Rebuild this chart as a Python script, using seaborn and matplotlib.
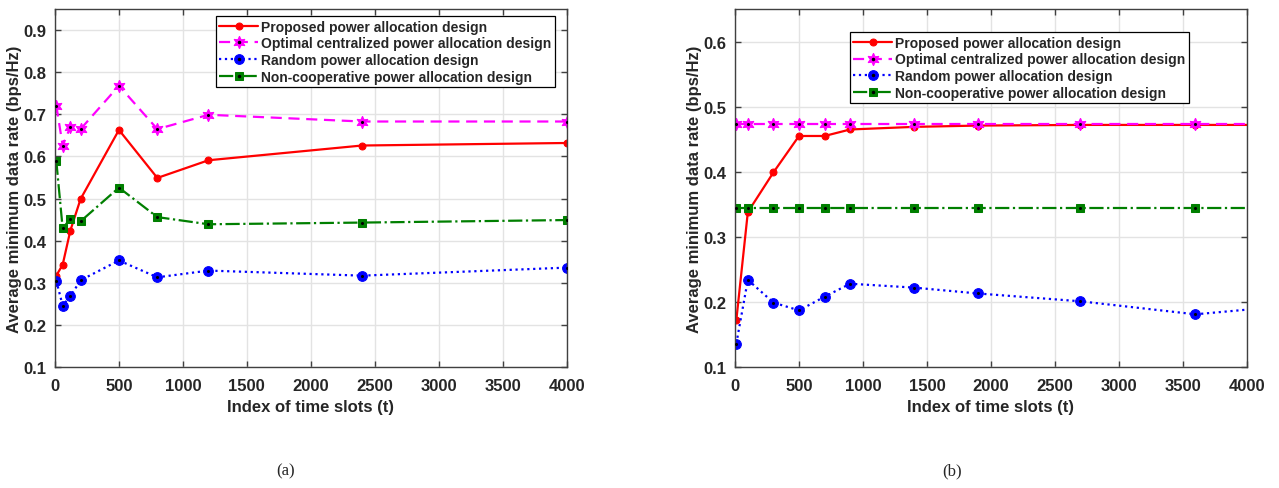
import matplotlib
matplotlib.use("Agg")
import matplotlib.pyplot as plt
import seaborn as sns
import pandas as pd

# (a) time slot indices and rates
t_a = [10, 60, 120, 200, 500, 800, 1200, 2400, 4000]
proposed_a = [0.317, 0.343, 0.424, 0.499, 0.663, 0.549, 0.591, 0.626, 0.632]
optimal_a = [0.721, 0.626, 0.670, 0.665, 0.768, 0.665, 0.699, 0.683, 0.683]
random_a = [0.305, 0.246, 0.268, 0.306, 0.353, 0.313, 0.329, 0.317, 0.336]
noncoop_a = [0.590, 0.429, 0.452, 0.446, 0.526, 0.456, 0.439, 0.443, 0.449]

# (b) time slot indices and rates (last point lies past the axis end)
t_b = [10, 100, 300, 500, 700, 900, 1400, 1900, 2700, 3600, 4500]
proposed_b = [0.172, 0.338, 0.399, 0.455, 0.455, 0.465, 0.469, 0.471, 0.472, 0.472, 0.472]
optimal_b = [0.473] * 11
random_b = [0.136, 0.234, 0.199, 0.187, 0.208, 0.228, 0.222, 0.213, 0.201, 0.181, 0.197]
noncoop_b = [0.344] * 11

labels = ["Proposed power allocation design",
          "Optimal centralized power allocation design",
          "Random power allocation design",
          "Non-cooperative power allocation design"]

sns.set_theme(style="whitegrid")
plt.rcParams["font.family"] = ["Liberation Sans", "DejaVu Sans"]
plt.rcParams["font.weight"] = "bold"

# color, linestyle, marker, marker size, black center dot
styles = [
    ("#ff0000", "-", "o", 5, False),
    ("#ff00ff", (0, (5, 3)), (6, 1, 0), 9, True),
    ("#0000ff", ":", "o", 7, True),
    ("#007f00", "-.", "s", 6, True),
]


def draw_panel(ax, t, series, ylim, yticks, leg_anchor):
    handles = []
    for vals, lab, (col, ls, mk, ms, dot) in zip(series, labels, styles):
        df = pd.DataFrame({"t": t, "rate": vals})
        sns.lineplot(data=df, x="t", y="rate", ax=ax, color=col, linestyle=ls,
                     linewidth=1.6, marker=mk, markersize=ms,
                     markeredgecolor=col, markerfacecolor=col, label=None)
        line = ax.get_lines()[-1]
        h = line
        if dot:
            sns.scatterplot(data=df, x="t", y="rate", ax=ax, color="black",
                            s=5, linewidth=0, zorder=5)
            d = plt.Line2D([], [], color="black", marker=".", markersize=3,
                           linestyle="none")
            h = (line, d)
        handles.append(h)
    ax.set_xlim(0, 4000)
    ax.set_ylim(*ylim)
    ax.set_xticks(range(0, 4001, 500))
    ax.set_yticks(yticks)
    ax.set_yticklabels([f"{v:.1f}" for v in yticks])
    ax.grid(True, color="#e3e3e3", linewidth=1)
    for s in ax.spines.values():
        s.set_color("#404040")
        s.set_linewidth(1)
    ax.tick_params(direction="in", length=4, width=1, color="#404040",
                   labelsize=12, top=True, right=True, bottom=True, left=True)
    ax.tick_params(axis="x", pad=8)
    ax.tick_params(axis="y", pad=6)
    for lab in ax.get_xticklabels() + ax.get_yticklabels():
        lab.set_fontweight("bold")
        lab.set_color("#262626")
    ax.set_xlabel("Index of time slots (t)", fontsize=12, fontweight="bold",
                  color="#262626", labelpad=4)
    ax.set_ylabel("Average minimum data rate (bps/Hz)", fontsize=12,
                  fontweight="bold", color="#262626", labelpad=1)
    leg = ax.legend(handles, labels, loc="upper right",
                    bbox_to_anchor=leg_anchor,
                    prop={"weight": "bold", "size": 10}, frameon=True,
                    fancybox=False, edgecolor="black", framealpha=1,
                    borderpad=0.25, labelspacing=0.2, handlelength=2.8,
                    handletextpad=0.2, borderaxespad=0.3, numpoints=1)
    leg.get_frame().set_linewidth(0.9)


fig = plt.figure(figsize=(12.79, 4.89), dpi=100)
ax1 = fig.add_axes([0.043, 0.2474, 0.400, 0.732])
ax2 = fig.add_axes([0.5747, 0.2474, 0.400, 0.732])

draw_panel(ax1, t_a, [proposed_a, optimal_a, random_a, noncoop_a],
           (0.1, 0.95), [0.1, 0.2, 0.3, 0.4, 0.5, 0.6, 0.7, 0.8, 0.9],
           (0.985, 0.992))
draw_panel(ax2, t_b, [proposed_b, optimal_b, random_b, noncoop_b],
           (0.1, 0.65), [0.1, 0.2, 0.3, 0.4, 0.5, 0.6],
           (0.895, 0.947))

fig.text(0.2236, 0.035, "(a)", ha="center", va="center", fontsize=12,
         family="Liberation Serif", fontweight="normal")
fig.text(0.7443, 0.035, "(b)", ha="center", va="center", fontsize=12,
         family="Liberation Serif", fontweight="normal")

fig.savefig("out.png", dpi=100)
